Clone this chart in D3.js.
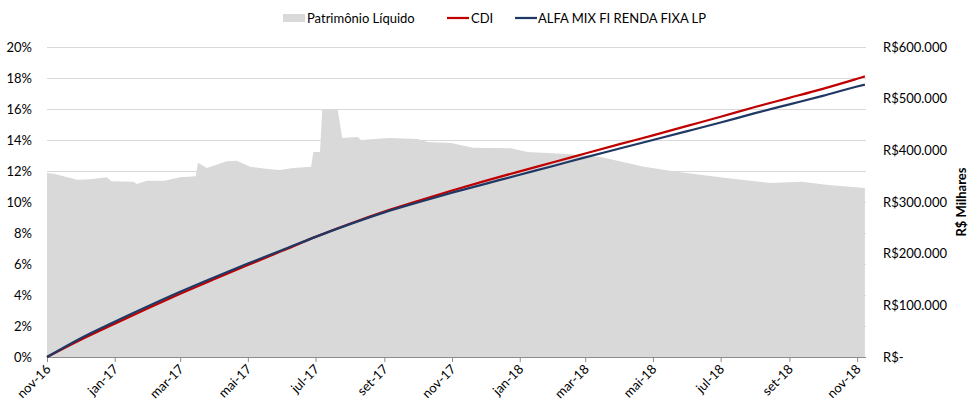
<!DOCTYPE html>
<html>
<head>
<meta charset="utf-8">
<script src="https://cdn.jsdelivr.net/npm/d3@7"></script>
<style>
  body { margin: 0; background: #fff; }
  svg text { font-family: Lato, "Open Sans", sans-serif; fill: #000; }
</style>
</head>
<body>
<div id="chart"></div>
<script>
// datas mensais das linhas
const lineDates = ["2016-11-01","2016-12-01","2017-01-01","2017-02-01","2017-03-01","2017-04-01",
  "2017-05-01","2017-06-01","2017-07-01","2017-08-01","2017-09-01","2017-10-01","2017-11-01",
  "2017-12-01","2018-01-01","2018-02-01","2018-03-01","2018-04-01","2018-05-01","2018-06-01",
  "2018-07-01","2018-08-01","2018-09-01","2018-10-01","2018-11-01","2018-11-08"];
// rentabilidade acumulada (%)
const cdi = [0, 1.1, 2.15, 3.18, 4.08, 5.03, 5.93, 6.85, 7.75, 8.6, 9.38, 10.06, 10.74,
  11.36, 11.98, 12.58, 13.13, 13.73, 14.3, 14.91, 15.5, 16.13, 16.72, 17.3, 17.95, 18.1];
const alfa = [0, 1.2, 2.28, 3.31, 4.21, 5.15, 6.03, 6.9, 7.75, 8.57, 9.33, 9.97, 10.6,
  11.17, 11.76, 12.34, 12.88, 13.45, 14.0, 14.57, 15.13, 15.73, 16.3, 16.85, 17.45, 17.57];

// patrimônio líquido (R$ milhares)
const plDates = ["2016-11-01","2016-11-08","2016-11-28","2016-12-10","2016-12-25","2016-12-29",
  "2017-01-18","2017-01-21","2017-01-30","2017-02-15","2017-03-01","2017-03-15","2017-03-17",
  "2017-03-25","2017-04-12","2017-04-21","2017-05-03","2017-05-19","2017-05-30","2017-06-11",
  "2017-06-27","2017-06-29","2017-07-05","2017-07-07","2017-07-21","2017-07-25","2017-08-08",
  "2017-08-11","2017-09-05","2017-10-01","2017-10-10","2017-10-31","2017-11-20","2017-12-24",
  "2018-01-08","2018-02-13","2018-03-15","2018-04-23","2018-05-24","2018-07-08","2018-08-15",
  "2018-09-12","2018-10-06","2018-11-08"];
const plValues = [356000, 354000, 343000, 344000, 348000, 340000,
  339000, 335000, 341000, 341000, 348000, 350000, 376000,
  366000, 379000, 380000, 368000, 364000, 362000, 366000,
  368000, 397000, 397000, 478000, 478000, 424000, 426000,
  420000, 424000, 422000, 416000, 414000, 405000, 404000,
  397000, 393000, 387000, 368000, 358000, 346000, 337000,
  339000, 333000, 327000];

const leftTicks = [0, 2, 4, 6, 8, 10, 12, 14, 16, 18, 20];
const rightTicks = [0, 100000, 200000, 300000, 400000, 500000, 600000];
const xTickDates = ["2016-11-01","2017-01-01","2017-03-01","2017-05-01","2017-07-01","2017-09-01",
  "2017-11-01","2018-01-01","2018-03-01","2018-05-01","2018-07-01","2018-09-01","2018-11-01"];
const mesesPt = ["jan","fev","mar","abr","mai","jun","jul","ago","set","out","nov","dez"];

const parse = d3.timeParse("%Y-%m-%d");
const W = 972, H = 405;
const m = { left: 47, right: 866, top: 47, bottom: 357 };

const svg = d3.select("#chart").append("svg").attr("width", W).attr("height", H);

const x = d3.scaleTime().domain([parse("2016-11-01"), parse("2018-11-09")]).range([m.left, m.right]);
const yL = d3.scaleLinear().domain([0, 20]).range([m.bottom, m.top]);
const yR = d3.scaleLinear().domain([0, 600000]).range([m.bottom, m.top]);

// linhas de grade
svg.append("g")
  .selectAll("line")
  .data(leftTicks.slice(1))
  .enter()
  .append("line")
  .attr("x1", m.left).attr("x2", m.right)
  .attr("y1", d => yL(d) + 0.5).attr("y2", d => yL(d) + 0.5)
  .attr("stroke", "#d9d9d9").attr("stroke-width", 1);

// área do PL
const plData = plDates.map((d, i) => ({ date: parse(d), v: plValues[i] }));
svg.append("path")
  .datum(plData)
  .attr("fill", "#d9d9d9")
  .attr("d", d3.area().x(d => x(d.date)).y0(yR(0)).y1(d => yR(d.v)));

// eixo x
const xAxis = svg.append("g")
  .attr("transform", `translate(0,${m.bottom})`)
  .call(d3.axisBottom(x)
    .tickValues(xTickDates.map(parse))
    .tickSize(5)
    .tickFormat(d => mesesPt[d.getMonth()] + "-" + String(d.getFullYear()).slice(2)));
xAxis.select(".domain").attr("stroke", "#8c8c8c").attr("d", `M${m.left},0.5H${m.right}`);
xAxis.selectAll(".tick line").attr("stroke", "#8c8c8c");
xAxis.selectAll("text")
  .attr("font-size", 13)
  .attr("dy", null).attr("y", 0).attr("x", 0)
  .attr("transform", "translate(4,13) rotate(-45)")
  .style("text-anchor", "end");

// eixo esquerdo
const yAxisL = svg.append("g")
  .attr("transform", `translate(${m.left},0)`)
  .call(d3.axisLeft(yL).tickValues(leftTicks).tickSize(0).tickPadding(15).tickFormat(d => d + "%"));
yAxisL.select(".domain").remove();
yAxisL.selectAll("text").attr("font-size", 13);

// eixo direito
const fmtNum = d3.formatLocale({ decimal: ",", thousands: ".", grouping: [3], currency: ["R$", ""] }).format(",.0f");
const yAxisR = svg.append("g")
  .attr("transform", `translate(${m.right},0)`)
  .call(d3.axisRight(yR).tickValues(rightTicks).tickSize(0).tickPadding(17)
    .tickFormat(d => d === 0 ? "R$-" : "R$" + fmtNum(d)));
yAxisR.select(".domain").remove();
yAxisR.selectAll("text").attr("font-size", 13).style("text-anchor", "start");

svg.append("text")
  .attr("transform", `translate(966,202) rotate(-90)`)
  .attr("text-anchor", "middle")
  .attr("font-size", 13)
  .attr("font-weight", "bold")
  .text("R$ Milhares");

// linhas
const line = d3.line().x(d => x(d.date)).y(d => yL(d.v)).curve(d3.curveMonotoneX);
const series = [
  { name: "CDI", values: cdi, color: "#c00000" },
  { name: "ALFA MIX FI RENDA FIXA LP", values: alfa, color: "#1f3864" }
];
series.forEach(s => {
  svg.append("path")
    .datum(lineDates.map((d, i) => ({ date: parse(d), v: s.values[i] })))
    .attr("fill", "none")
    .attr("stroke", s.color)
    .attr("stroke-width", 2.25)
    .attr("d", line);
});

// legenda
const lg = svg.append("g").attr("font-size", 13);
lg.append("rect").attr("x", 283).attr("y", 14).attr("width", 22).attr("height", 8).attr("fill", "#d9d9d9");
lg.append("text").attr("x", 307).attr("y", 23).text("Patrimônio Líquido");
lg.append("line").attr("x1", 447).attr("x2", 469).attr("y1", 18).attr("y2", 18)
  .attr("stroke", "#c00000").attr("stroke-width", 2.25);
lg.append("text").attr("x", 471).attr("y", 23).text("CDI");
lg.append("line").attr("x1", 515).attr("x2", 537).attr("y1", 18).attr("y2", 18)
  .attr("stroke", "#1f3864").attr("stroke-width", 2.25);
lg.append("text").attr("x", 538).attr("y", 23).text("ALFA MIX FI RENDA FIXA LP");
</script>
</body>
</html>
